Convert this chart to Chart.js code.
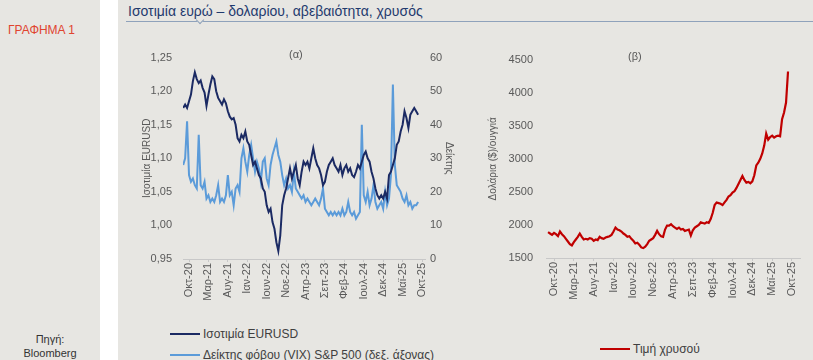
<!DOCTYPE html>
<html>
<head>
<meta charset="utf-8">
<script src="https://cdn.jsdelivr.net/npm/chart.js@4.4.1/dist/chart.umd.min.js"></script>
<style>
  body { margin: 0; width: 813px; height: 360px; overflow: hidden; position: relative;
         background: #e7e6e2; font-family: "Liberation Sans", Arial, sans-serif; }
  #strip { position: absolute; left: 100px; top: 0; width: 18px; height: 360px; background: #fff; }
  #tag { position: absolute; left: 8px; top: 23px; color: #e0442f; font-size: 12px; }
  #source { position: absolute; left: 0; width: 100px; top: 332px; text-align: center;
            font-size: 11px; line-height: 14px; color: #333; }
  #title { position: absolute; left: 128px; top: 3px; font-size: 14px; color: #1f3a6e; }
  #rule { position: absolute; left: 126px; right: 0; top: 21px; border-top: 1px solid #8fa2bb; }
  #notch { position: absolute; left: 197px; top: 17px; width: 5px; height: 5px; background: #e7e6e2;
           border-right: 1px solid #8fa2bb; border-bottom: 1px solid #8fa2bb; transform: rotate(45deg); }
  .panel { position: absolute; }
  .sub { position: absolute; font-size: 11px; color: #595959; }
  .legend { position: absolute; font-size: 12px; color: #404040; }
  .item { height: 21px; display: flex; align-items: center; white-space: nowrap; }
  .swatch { display: inline-block; width: 30px; height: 2px; margin-right: 3px; }
</style>
</head>
<body>
<div id="strip"></div>
<div id="tag">ΓΡΑΦΗΜΑ 1</div>
<div id="source">Πηγή:<br>Bloomberg</div>
<div id="title">Ισοτιμία ευρώ – δολαρίου, αβεβαιότητα, χρυσός</div>
<div id="rule"></div>
<div id="notch"></div>

<canvas id="chartA" class="panel" width="340" height="275" style="left:120px;top:40px"></canvas>
<canvas id="chartB" class="panel" width="333" height="275" style="left:480px;top:40px"></canvas>
<div class="sub" style="left:289px;top:48px">(α)</div>
<div class="sub" style="left:628px;top:50px">(β)</div>
<div id="legendA" class="legend" style="left:170px;top:323px"></div>
<div id="legendB" class="legend" style="left:600px;top:338px"></div>

<script>
// tick labels, one every 5 months
const tickLabels = ['Οκτ-20', 'Μαρ-21', 'Αυγ-21', 'Ιαν-22', 'Ιουν-22', 'Νοε-22', 'Απρ-23',
                    'Σεπ-23', 'Φεβ-24', 'Ιουλ-24', 'Δεκ-24', 'Μαϊ-25', 'Οκτ-25'];

// half-monthly readings
const eurusd = [
  1.175, 1.18, 1.175, 1.185, 1.195, 1.215, 1.228, 1.218, 1.212, 1.216,
  1.205, 1.198, 1.178, 1.195, 1.21, 1.222, 1.218, 1.2, 1.19, 1.185,
  1.18, 1.188, 1.182, 1.17, 1.162, 1.158, 1.16, 1.15, 1.13, 1.125,
  1.135, 1.13, 1.14, 1.125, 1.12, 1.105, 1.09, 1.095, 1.085, 1.075,
  1.07, 1.055, 1.05, 1.03, 1.02, 1.025, 1.005, 0.995, 0.975, 0.962,
  0.985, 1.03, 1.045, 1.055, 1.07, 1.085, 1.07, 1.08, 1.09, 1.07,
  1.06, 1.08, 1.095, 1.09, 1.095, 1.085, 1.1, 1.115, 1.1, 1.09,
  1.085, 1.075, 1.06, 1.065, 1.08, 1.09, 1.095, 1.1, 1.09, 1.085,
  1.08, 1.09, 1.075, 1.085, 1.09, 1.08, 1.085, 1.075, 1.072, 1.08,
  1.09, 1.085, 1.095, 1.105, 1.11, 1.1, 1.095, 1.08, 1.07, 1.055,
  1.045, 1.04, 1.045, 1.04, 1.05, 1.04, 1.075, 1.08, 1.09, 1.1,
  1.12, 1.125, 1.14, 1.15, 1.17, 1.16, 1.145, 1.165, 1.17, 1.175,
  1.17, 1.165
];
const vix = [
  28, 30, 41, 25, 23, 24, 22, 21, 37, 22,
  21, 23, 18, 19, 17, 18, 17, 19, 22, 17,
  18, 17, 19, 25, 19, 20, 16, 21, 22, 20,
  30, 33, 29, 26, 31, 34, 30, 26, 29, 27,
  23, 29, 30, 24, 22, 28, 31, 33, 35, 31,
  29, 25, 22, 24, 21, 22, 20, 26, 21, 20,
  19, 18, 19, 17, 18, 17, 16, 17, 18, 17,
  16, 18, 21, 15, 14, 13, 14, 13, 14, 13,
  14, 13, 15, 13, 14, 17, 14, 13, 14, 12,
  13, 14, 40, 19, 17, 20, 16, 18, 22, 17,
  15, 16, 17, 15, 20, 16, 18, 25, 52, 28,
  22, 21, 20, 18, 17, 19, 16, 17, 15, 16,
  16, 17
];
const gold = [
  1890, 1870, 1850, 1880, 1860, 1830, 1900, 1860, 1830, 1790,
  1750, 1710, 1690, 1740, 1780, 1820, 1870, 1820, 1780, 1790,
  1780, 1800, 1790, 1760, 1780, 1770, 1820, 1800, 1790, 1810,
  1820, 1830, 1850, 1900, 1960, 1930, 1920, 1900, 1870, 1850,
  1820, 1830, 1790, 1760, 1720, 1730, 1700, 1660, 1650, 1670,
  1710, 1760, 1780, 1800, 1850, 1910, 1860, 1830, 1820, 1930,
  1990, 1990, 2010, 1980, 1960, 1940, 1960, 1930, 1940, 1910,
  1920, 1930, 1840, 1920, 1960, 1980, 2000, 2040, 2030, 2020,
  2040, 2030, 2090, 2180, 2300, 2340, 2330, 2320, 2300, 2340,
  2380, 2430, 2450, 2490, 2510, 2560, 2620, 2680, 2740, 2680,
  2640, 2650, 2630, 2660, 2750, 2900, 2940, 3000, 3080, 3200,
  3380, 3290, 3330, 3350, 3320, 3340, 3350, 3340, 3600, 3700,
  3850, 4320
];

// months from the first tick label
const months = eurusd.map((_, i) => -1.5 + i * 0.5);
const pts = arr => arr.map((v, i) => ({ x: months[i], y: v }));

Chart.defaults.font.family = '"Liberation Sans", Arial, sans-serif';
Chart.defaults.color = '#595959';

function xAxis(min, max, h) {
  return {
    type: 'linear', min: min, max: max,
    afterBuildTicks: s => { s.ticks = tickLabels.map((t, i) => ({ value: i * 5 })); },
    afterFit: s => { s.height = h; },
    ticks: { autoSkip: false, minRotation: 90, maxRotation: 90, padding: 1,
             font: { size: 11 }, callback: v => tickLabels[Math.round(v / 5)] },
    grid: { drawOnChartArea: false, tickLength: 3, color: '#c8c8c8' },
    border: { color: '#c8c8c8' }
  };
}

function yAxis(pos, min, max, step, w, pad, title, titlePad, fmt) {
  return {
    position: pos, min: min, max: max,
    afterFit: s => { s.width = w; },
    ticks: { stepSize: step, padding: pad, font: { size: 11 }, callback: fmt },
    grid: { display: false, drawTicks: false },
    border: { display: false },
    title: { display: true, text: title, font: { size: 10 }, padding: { top: titlePad, bottom: 0 } }
  };
}

const common = {
  responsive: false,
  animation: false,
  elements: { point: { radius: 0 }, line: { borderWidth: 2, tension: 0 } },
  plugins: { legend: { display: false }, tooltip: { enabled: false } }
};

const chartA = new Chart(document.getElementById('chartA'), {
  type: 'line',
  data: {
    datasets: [
      { label: 'Ισοτιμία EURUSD', data: pts(eurusd), borderColor: '#1b2a63', yAxisID: 'y' },
      { label: 'Δείκτης φόβου (VIX) S&P 500 (δεξ. άξονας)', data: pts(vix), borderColor: '#5b9bd9', yAxisID: 'y1' }
    ]
  },
  options: {
    ...common,
    layout: { padding: { top: 13, right: 0, bottom: 0, left: 0 } },
    scales: {
      x: xAxis(-1.55, 60.77, 56),
      y: yAxis('left', 0.95, 1.25, 0.05, 63, 11, 'Ισοτιμία EURUSD', 21,
               v => v.toFixed(2).replace('.', ',')),
      y1: yAxis('right', 0, 60, 10, 35, 5, 'Δείκτης', 5, v => v)
    }
  }
});

const chartB = new Chart(document.getElementById('chartB'), {
  type: 'line',
  data: {
    datasets: [
      { label: 'Τιμή χρυσού', data: pts(gold), borderColor: '#c00000', borderWidth: 2.2, yAxisID: 'y' }
    ]
  },
  options: {
    ...common,
    layout: { padding: { top: 13, right: 13, bottom: 0, left: 0 } },
    scales: {
      x: xAxis(-2.02, 62.02, 57),
      y: yAxis('left', 1500, 4500, 500, 66, 13, 'Δολάρια ($)/ουγγιά', 7, v => v)
    }
  }
});

function buildLegend(chart, el) {
  chart.data.datasets.forEach(ds => {
    const row = document.createElement('div');
    row.className = 'item';
    const sw = document.createElement('span');
    sw.className = 'swatch';
    sw.style.background = ds.borderColor;
    const tx = document.createElement('span');
    tx.textContent = ds.label;
    row.append(sw, tx);
    el.append(row);
  });
}
buildLegend(chartA, document.getElementById('legendA'));
buildLegend(chartB, document.getElementById('legendB'));
</script>
</body>
</html>
